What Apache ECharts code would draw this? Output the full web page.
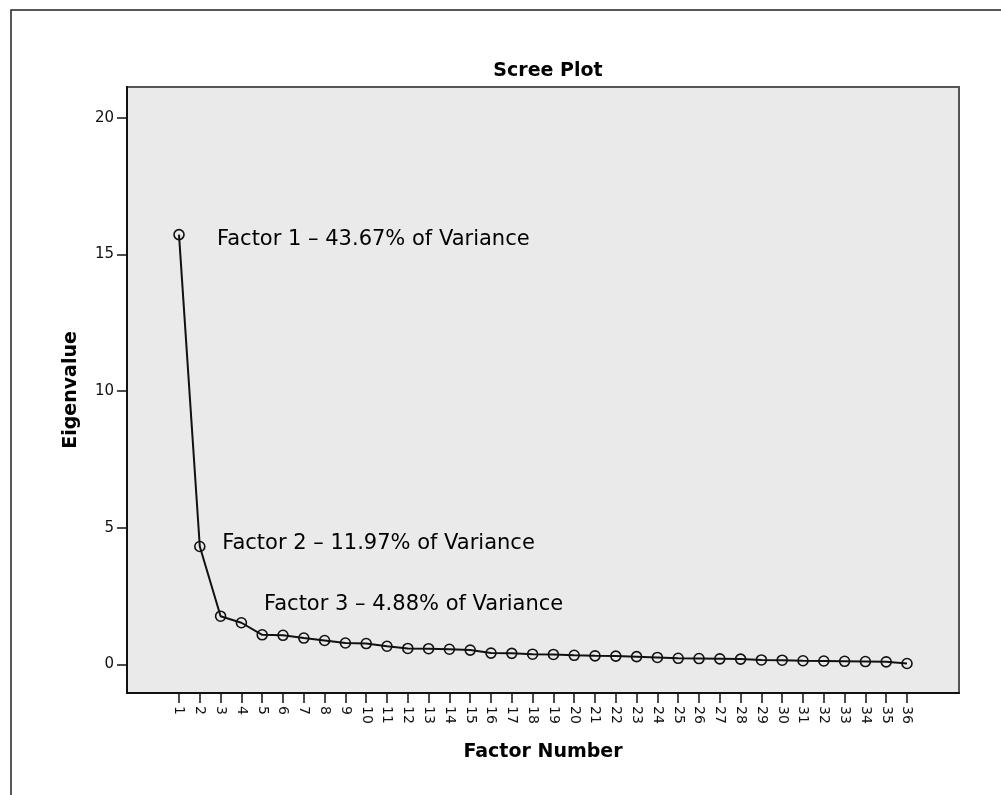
<!DOCTYPE html>
<html>
<head>
<meta charset="utf-8">
<script src="https://cdn.jsdelivr.net/npm/echarts@6/dist/echarts.min.js"></script>
<style>
html,body{margin:0;padding:0;background:#fff;}
#chart{width:1001px;height:795px;}
</style>
</head>
<body>
<div id="chart"></div>
<script>
var factorNumbers = [];
for (var i = 1; i <= 36; i++) factorNumbers.push(i);
var eigenvalues = [15.72, 4.31, 1.76, 1.52, 1.08, 1.06, 0.96, 0.87, 0.78, 0.76,
  0.66, 0.58, 0.57, 0.55, 0.52, 0.41, 0.40, 0.37, 0.36, 0.33,
  0.31, 0.30, 0.28, 0.25, 0.22, 0.21, 0.20, 0.19, 0.16, 0.15,
  0.13, 0.12, 0.11, 0.10, 0.09, 0.03];
var yTicks = [0, 5, 10, 15, 20];
var annoText = ['Factor 1 \u2013 43.67% of Variance', 'Factor 2 \u2013 11.97% of Variance', 'Factor 3 \u2013 4.88% of Variance'];
var annoX = [2.83, 3.08, 5.09];
var annoY = [15.53, 4.40, 2.17];

var FONT = '"DejaVu Sans", sans-serif';
var chart = echarts.init(document.getElementById('chart'), null, {renderer: 'canvas'});
var option = {
  backgroundColor: '#ffffff',
  animation: false,
  title: {
    text: 'Scree Plot',
    left: 543,
    top: 57,
    textAlign: 'center',
    textStyle: {fontFamily: FONT, fontWeight: 'bold', fontSize: 19, color: '#000'}
  },
  graphic: [{
    type: 'rect',
    shape: {x: 11, y: 10, width: 1100, height: 900},
    style: {fill: 'none', stroke: '#222', lineWidth: 1.5},
    silent: true
  }],
  grid: {
    left: 127, top: 87, right: 42, bottom: 102,
    show: true,
    backgroundColor: '#eaeaea',
    borderColor: '#555',
    borderWidth: 2
  },
  xAxis: {
    type: 'value',
    min: -1.5,
    max: 38.5,
    name: 'Factor Number',
    nameLocation: 'middle',
    nameGap: 50,
    nameTextStyle: {fontFamily: FONT, fontWeight: 'bold', fontSize: 19, color: '#000'},
    axisLine: {show: true, onZero: false, lineStyle: {color: '#111', width: 2}},
    axisTick: {show: true, inside: false, length: 10, customValues: factorNumbers, lineStyle: {color: '#111', width: 1.5}},
    axisLabel: {show: true, customValues: factorNumbers, rotate: -90, margin: 13,
      fontFamily: FONT, fontSize: 14, color: '#111'},
    splitLine: {show: false}
  },
  yAxis: {
    type: 'value',
    min: -1.05,
    max: 21.12,
    name: 'Eigenvalue',
    nameLocation: 'middle',
    nameGap: 46,
    nameTextStyle: {fontFamily: FONT, fontWeight: 'bold', fontSize: 19, color: '#000'},
    axisLine: {show: true, onZero: false, lineStyle: {color: '#111', width: 2}},
    axisTick: {show: true, inside: false, length: 10, customValues: yTicks, lineStyle: {color: '#111', width: 1.5}},
    axisLabel: {show: true, customValues: yTicks, margin: 13,
      fontFamily: FONT, fontSize: 15, color: '#111'},
    splitLine: {show: false}
  },
  series: [{
    type: 'line',
    data: factorNumbers.map(function (f, i) { return [f, eigenvalues[i]]; }),
    symbol: 'circle',
    symbolSize: 10,
    showAllSymbol: true,
    lineStyle: {color: '#111', width: 2},
    itemStyle: {color: 'transparent', borderColor: '#111', borderWidth: 1.6},
    z: 3
  }, {
    type: 'scatter',
    symbolSize: 0,
    data: annoText.map(function (t, i) { return {name: t, value: [annoX[i], annoY[i]]}; }),
    label: {
      show: true, position: 'right', distance: 0,
      formatter: '{b}',
      fontFamily: FONT, fontSize: 21, color: '#000', opacity: 1
    },
    itemStyle: {opacity: 1},
    silent: true,
    z: 4
  }]
};
chart.setOption(option);
</script>
</body>
</html>
